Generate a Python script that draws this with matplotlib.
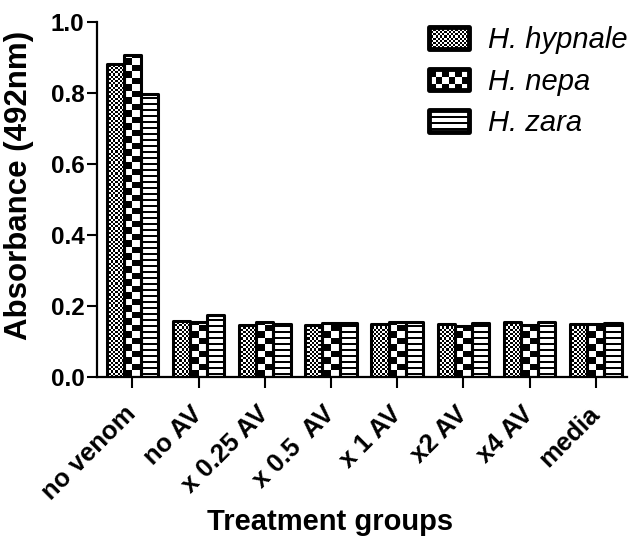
import numpy as np
import matplotlib
matplotlib.use("Agg")
import matplotlib.pyplot as plt
from matplotlib.patches import Rectangle
from matplotlib.collections import PatchCollection
from matplotlib.legend_handler import HandlerBase

groups = ["no venom", "no AV", "x 0.25 AV", "x 0.5  AV", "x 1 AV", "x2 AV", "x4 AV", "media"]
species = ["H. hypnale", "H. nepa", "H. zara"]
hypnale = [0.881, 0.159, 0.147, 0.147, 0.150, 0.150, 0.154, 0.148]
nepa = [0.906, 0.154, 0.155, 0.151, 0.155, 0.145, 0.147, 0.150]
zara = [0.798, 0.175, 0.150, 0.151, 0.154, 0.151, 0.154, 0.151]
patterns = ["fine", "coarse", "stripes"]

plt.rcParams["font.family"] = ["Liberation Sans", "DejaVu Sans"]


def pattern_rects(kind, x0, y0, w, h, ux, uy, coarse_w=None):
    """Black cells of one fill pattern; ux, uy = size of one pixel."""
    rects = []
    if kind == "stripes":
        y = y0 + 2 * uy
        while y < y0 + h:
            rects.append(Rectangle((x0, y), w, 2 * uy))
            y += 6 * uy
        return rects
    if kind == "fine":
        cx, cy = 2.2 * ux, 2.2 * uy
    else:
        cx, cy = (coarse_w or 6.5 * ux), 6.5 * uy
    ncol = int(np.ceil(w / cx))
    nrow = int(np.ceil(h / cy))
    for i in range(ncol):
        for j in range(nrow):
            if (i + j) % 2 == 0:
                rects.append(Rectangle((x0 + i * cx, y0 + j * cy),
                                       min(cx, x0 + w - (x0 + i * cx)),
                                       min(cy, y0 + h - (y0 + j * cy))))
    return rects


class HandlerPattern(HandlerBase):
    def __init__(self, kind):
        super().__init__()
        self.kind = kind

    def create_artists(self, legend, orig_handle, xdescent, ydescent,
                       width, height, fontsize, trans):
        x0, y0 = -xdescent, -ydescent
        px = 72 / legend.figure.dpi
        cells = pattern_rects(self.kind, x0, y0, width, height, px, px)
        coll = PatchCollection(cells, facecolor="black", edgecolor="none",
                               antialiased=False, transform=trans)
        frame = Rectangle((x0, y0), width, height, facecolor="none",
                          edgecolor="black", lw=3.5, joinstyle="round",
                          transform=trans)
        return [coll, frame]


fig = plt.figure(figsize=(6.33, 5.37), dpi=100)
ax = fig.add_axes([0.1532, 0.298, 0.8373, 0.661])
ax.set_xlim(-0.535, 7.47)
ax.set_ylim(0, 1.0)

x = np.arange(len(groups))
width = 0.26
(x0d, y0d), (x1d, y1d) = ax.transData.transform([[0, 0], [1, 1]])
ux = 1 / (x1d - x0d)
uy = 1 / (y1d - y0d)

handles = []
for k, (vals, kind) in enumerate(zip([hypnale, nepa, zara], patterns)):
    bars = ax.bar(x + (k - 1) * width, vals, width=width, facecolor="none",
                  edgecolor="black", lw=2.2, zorder=3, label=species[k])
    for b in bars:
        b.set_joinstyle("round")
        bx, by = b.get_x(), b.get_y()
        bw, bh = b.get_width(), b.get_height()
        cells = pattern_rects(kind, bx, by, bw, bh, ux, uy, coarse_w=bw / 2)
        coll = PatchCollection(cells, facecolor="black", edgecolor="none",
                               antialiased=False, zorder=2)
        ax.add_collection(coll)
        coll.set_clip_path(b)
    handles.append(bars)

for side in ["top", "right"]:
    ax.spines[side].set_visible(False)
for side in ["left", "bottom"]:
    ax.spines[side].set_linewidth(1.6)

ax.set_yticks([0.0, 0.2, 0.4, 0.6, 0.8, 1.0])
ax.set_yticklabels(["0.0", "0.2", "0.4", "0.6", "0.8", "1.0"])
ax.tick_params(axis="y", length=7, width=1.5, pad=2, labelsize=17.5)
ax.tick_params(axis="x", length=8, width=1.5, pad=16, labelsize=18.5)
for lab in ax.get_yticklabels():
    lab.set_fontweight("bold")
ax.set_xticks(x)
ax.set_xticklabels(groups, rotation=45, ha="right", va="center",
                   rotation_mode="anchor", fontweight="bold")

ax.set_ylabel("Absorbance (492nm)", fontsize=22.5, fontweight="bold")
ax.yaxis.set_label_coords(-0.119, 0.541)
ax.set_xlabel("Treatment groups", fontsize=21, fontweight="bold", va="top")
ax.xaxis.set_label_coords(0.44, -0.370)

ax.legend(handles, species, loc="upper left",
          bbox_to_anchor=(429 / 633, 1 - 26 / 537),
          bbox_transform=fig.transFigure, borderpad=0, borderaxespad=0,
          frameon=False, prop={"style": "italic", "size": 21},
          handlelength=1.38, handleheight=0.76, handletextpad=0.66,
          labelspacing=0.47,
          handler_map={h: HandlerPattern(p) for h, p in zip(handles, patterns)})

fig.savefig("out.png", dpi=100)
